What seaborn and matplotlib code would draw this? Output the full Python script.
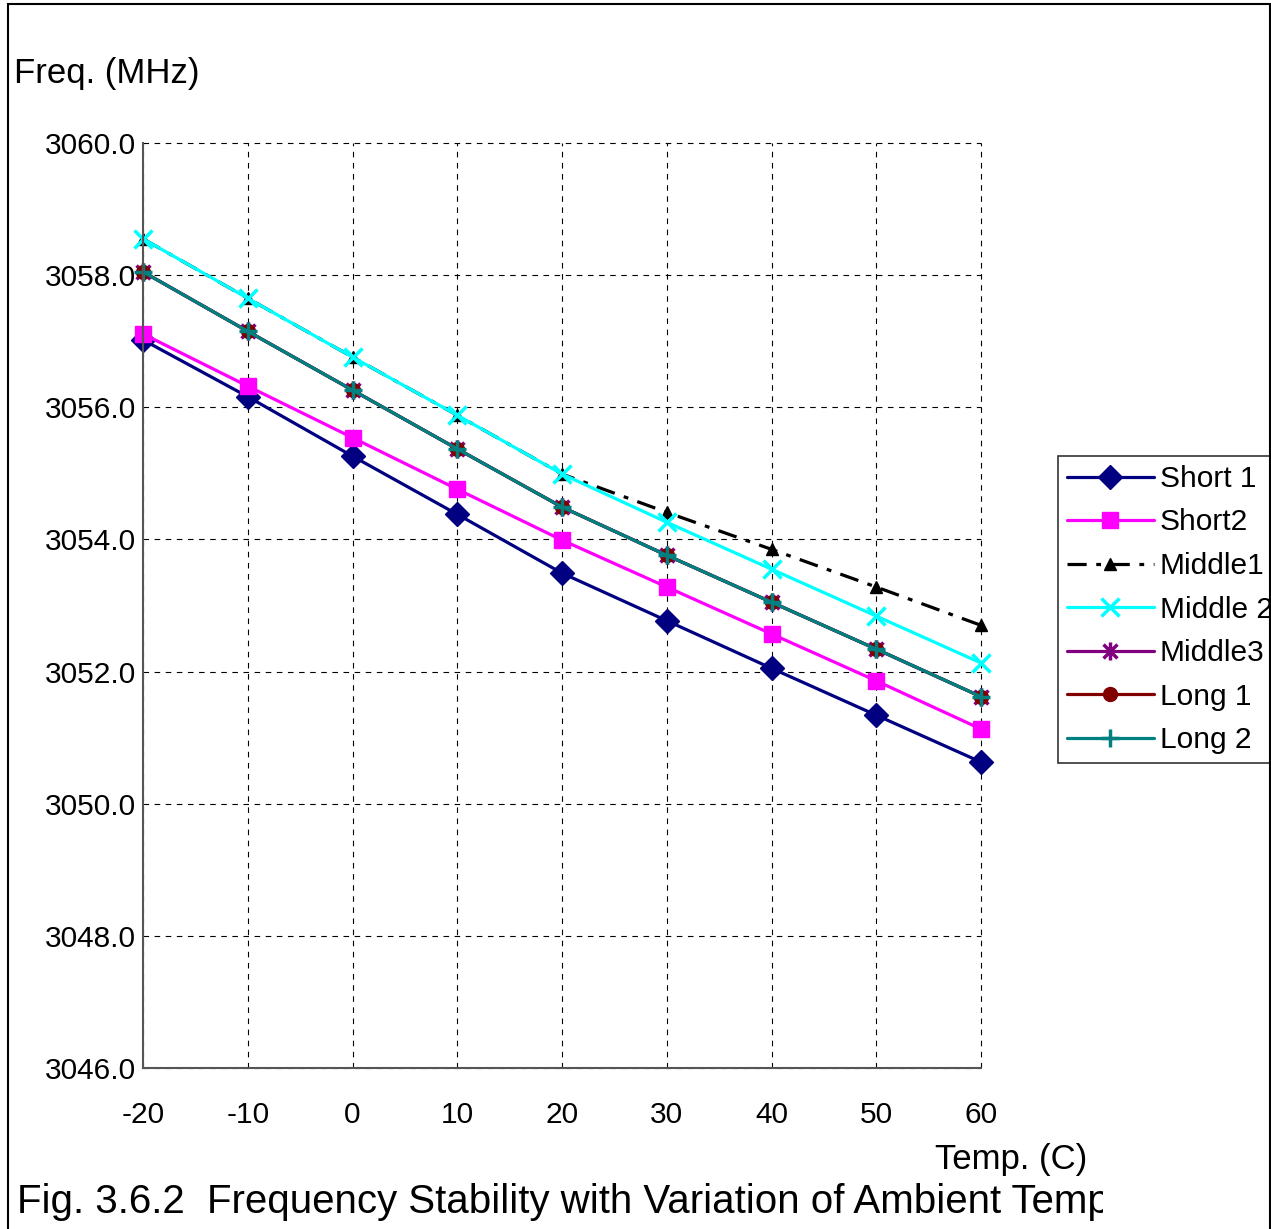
import numpy as np
import pandas as pd
import matplotlib
matplotlib.use("Agg")
import matplotlib.pyplot as plt
import seaborn as sns
from matplotlib.path import Path
from matplotlib.patches import Rectangle

sns.set_style("white")
plt.rcParams['font.family'] = ['Liberation Sans', 'DejaVu Sans']
plt.rcParams['axes.unicode_minus'] = False
plt.rcParams['text.color'] = 'black'
plt.rcParams['xtick.color'] = 'black'
plt.rcParams['ytick.color'] = 'black'

# data
temps = [-20, -10, 0, 10, 20, 30, 40, 50, 60]
short1 = [3057.02, 3056.16, 3055.26, 3054.38, 3053.49, 3052.77, 3052.05, 3051.34, 3050.63]
short2 = [3057.11, 3056.32, 3055.54, 3054.76, 3053.99, 3053.28, 3052.57, 3051.86, 3051.13]
middle1 = [3058.55, 3057.65, 3056.76, 3055.88, 3054.99, 3054.41, 3053.85, 3053.28, 3052.70]
middle2 = [3058.55, 3057.65, 3056.76, 3055.88, 3054.99, 3054.26, 3053.55, 3052.84, 3052.13]
middle3 = [3058.05, 3057.15, 3056.26, 3055.37, 3054.49, 3053.76, 3053.05, 3052.34, 3051.62]
long1 = [3058.05, 3057.15, 3056.26, 3055.37, 3054.49, 3053.76, 3053.05, 3052.34, 3051.62]
long2 = [3058.05, 3057.15, 3056.26, 3055.37, 3054.49, 3053.76, 3053.05, 3052.34, 3051.62]
yticks = [3046, 3048, 3050, 3052, 3054, 3056, 3058, 3060]
xticks = temps

# excel style asterisk: an X plus a vertical bar
star = Path([(-1, -1), (1, 1), (-1, 1), (1, -1), (0, -1.3), (0, 1.3)],
            [Path.MOVETO, Path.LINETO, Path.MOVETO, Path.LINETO, Path.MOVETO, Path.LINETO])

series = [
    ("Short 1", short1, "#000080", "D", "-", 12),
    ("Short2", short2, "#FF00FF", "s", "-", 12),
    ("Middle1", middle1, "black", "^", (0, (6, 3, 1.5, 3)), 8),
    ("Middle 2", middle2, "#00FFFF", "x", "-", 13),
    ("Middle3", middle3, "#800080", star, "-", 13),
    ("Long 1", long1, "#800000", "o", "-", 10),
    ("Long 2", long2, "#008080", "+", "-", 13),
]

fig = plt.figure(figsize=(12.71, 12.29), dpi=100)
ax = fig.add_axes([143/1271, 1 - 1068/1229, (981 - 143)/1271, (1068 - 143)/1229])

for name, vals, col, mk, ls, ms in series:
    df = pd.DataFrame({"t": temps, "f": vals})
    sns.lineplot(data=df, x="t", y="f", ax=ax, color=col, marker=mk, linestyle=ls,
                 markersize=ms, markeredgecolor=col, markerfacecolor=col,
                 markeredgewidth=2.5 if mk in ("x", "+") or mk is star else 1,
                 linewidth=2.3, label=name, clip_on=False)

ax.set_xlim(-20, 60)
ax.set_ylim(3046, 3060)
ax.set_xticks(xticks)
ax.set_yticks(yticks)
ax.set_yticklabels([f"{v:.1f}" for v in yticks])
ax.set_xlabel("")
ax.set_ylabel("")
ax.tick_params(axis="both", labelsize=21.5, direction="in", length=5, color="black")
ax.tick_params(axis="x", pad=24)
ax.tick_params(axis="y", pad=5)
ax.grid(True, color="black", linestyle=(0, (5, 5)), linewidth=0.8)
for gl in ax.get_xgridlines() + ax.get_ygridlines():
    gl.set_clip_on(False)
ax.set_axisbelow(True)
for s in ["top", "right"]:
    ax.spines[s].set_visible(False)
for s in ["left", "bottom"]:
    ax.spines[s].set_color("#555555")
    ax.spines[s].set_linewidth(1.5)

leg = ax.legend(loc="upper left", bbox_to_anchor=(1058/1271, 1 - 456/1229),
                bbox_transform=fig.transFigure, fontsize=21.5, frameon=True,
                fancybox=False, edgecolor="black", handlelength=2.9,
                handletextpad=0.2, labelspacing=0.52, borderpad=0.3,
                borderaxespad=0, markerscale=1.0)
leg.get_frame().set_linewidth(1.2)
for t in leg.get_texts():
    t.set_clip_path(leg.legendPatch)

fig.text(14/1271, 1 - 73/1229, "Freq. (MHz)", fontsize=25, va="center", ha="left")
fig.text(1087/1271, 1 - 1160/1229, "Temp. (C)", fontsize=25, va="center", ha="right")

# caption is cut off at the right in the reference
cap_ax = fig.add_axes([0, 0, 1103/1271, 60/1229])
cap_ax.axis("off")
cap_ax.text(17/1103, 0.45, "Fig. 3.6.2  Frequency Stability with Variation of Ambient Temperature",
            fontsize=29, va="center", ha="left", transform=cap_ax.transAxes, clip_on=True)

fig.patches.append(Rectangle((8/1271, -0.01), (1270 - 8)/1271, 1 - 4/1229 + 0.01,
                             transform=fig.transFigure, fill=False, edgecolor="black",
                             linewidth=1.5))

fig.savefig("out.png", dpi=100)
